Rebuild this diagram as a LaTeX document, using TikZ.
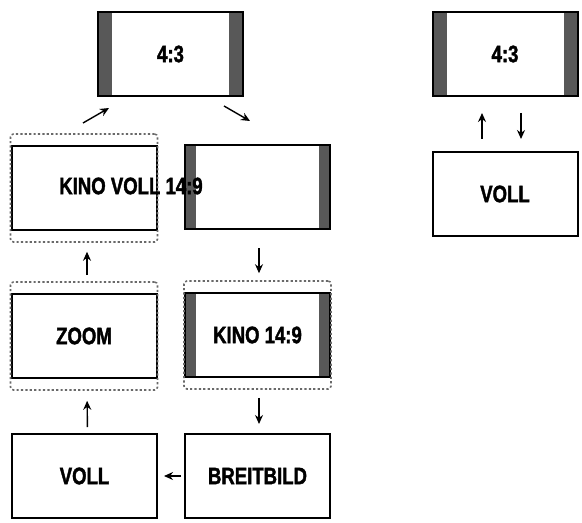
\documentclass[tikz,border=0pt]{standalone}
\usepackage{fontspec}
\newfontfamily\screenfont{Liberation Sans}[FakeStretch=0.78, BoldFeatures={FakeBold=1.6}]
\usepackage{tikz}
\usetikzlibrary{arrows.meta,positioning,calc,fit}
\usepackage{xcolor}
\definecolor{pillargray}{RGB}{88,88,88}
\definecolor{framegray}{RGB}{105,105,105}

\tikzset{
  screen/.style={draw, line width=1pt, minimum width=72.5pt, minimum height=42pt,
    inner sep=0pt, font=\screenfont\bfseries\fontsize{11.9}{13}\selectfont},
  pillars/.style={path picture={
    \fill[pillargray] (path picture bounding box.south west) rectangle ([xshift=#1]path picture bounding box.north west);
    \fill[pillargray] (path picture bounding box.south east) rectangle ([xshift=-#1]path picture bounding box.north east);}},
  dotframe/.style={draw=framegray, line width=0.8pt, dash pattern=on 1.1pt off 1.1pt,
    rounded corners=1.5pt, inner xsep=0pt, inner ysep=5.5pt},
  flow/.style={-{Stealth[length=4.5pt,width=4pt]}, line width=0.7pt},
  label/.style={font=\screenfont\bfseries\fontsize{11.9}{13}\selectfont}
}

\begin{document}
\begin{tikzpicture}[x=0.5pt, y=-0.5pt]
    \useasboundingbox (0,0) rectangle (582,523);

    % Left group: screens
    \node[screen, pillars=7pt] (top43) at (170.5,54) {4:3};
    \node[screen] (kinovoll) at (84,188) {};
    \node[screen, pillars=5.5pt] (plain) at (257.5,187.5) {};
    \node[screen] (zoom) at (84,336) {ZOOM};
    \node[screen, pillars=5.5pt] (kino) at (257.5,335) {KINO 14:9};
    \node[screen] (voll) at (84.5,476) {VOLL};
    \node[screen] (breit) at (257.5,476) {BREITBILD};

    % Dotted frames
    \node[dotframe, fit=(kinovoll)] (kvframe) {};
    \node[dotframe, fit=(zoom)] (zoomframe) {};
    \node[dotframe, fit=(kino)] (kinoframe) {};
    \node[label] (kvlabel) at (131,186) {KINO VOLL 14:9};

    % Arrows
    \draw[flow] ($(top43.south west)+(-14,26)$) -- ($(top43.south west)+(12,11)$);
    \draw[flow] ($(top43.south east)+(-20,9)$) -- ($(top43.south east)+(6,24)$);
    \draw[flow, shorten <=9pt, shorten >=3.5pt] ([xshift=0.75pt]plain.south) -- ([xshift=0.75pt]kinoframe.north);
    \draw[flow, shorten <=4pt, shorten >=4.5pt] ([xshift=0.75pt]kinoframe.south) -- ([xshift=0.75pt]breit.north);
    \draw[flow, shorten <=1.5pt, shorten >=3pt] (breit.west) -- (voll.east);
    \draw[flow, shorten <=3pt, shorten >=5pt] ([xshift=1.5pt]voll.north) -- ([xshift=1.5pt]zoomframe.south);
    \draw[flow, shorten <=3pt, shorten >=4.5pt] ([xshift=1.5pt]zoomframe.north) -- ([xshift=1.5pt]kvframe.south);

    % Right group
    \node[screen, pillars=7pt] (right43) at (505,54) {4:3};
    \node[screen] (rightvoll) at (505,194) {VOLL};
    \draw[flow, shorten <=6pt, shorten >=8pt] ([xshift=-11.5pt]rightvoll.north) -- ([xshift=-11.5pt]right43.south);
    \draw[flow, shorten <=8pt, shorten >=6pt] ([xshift=8pt]right43.south) -- ([xshift=8pt]rightvoll.north);
\end{tikzpicture}
\end{document}
